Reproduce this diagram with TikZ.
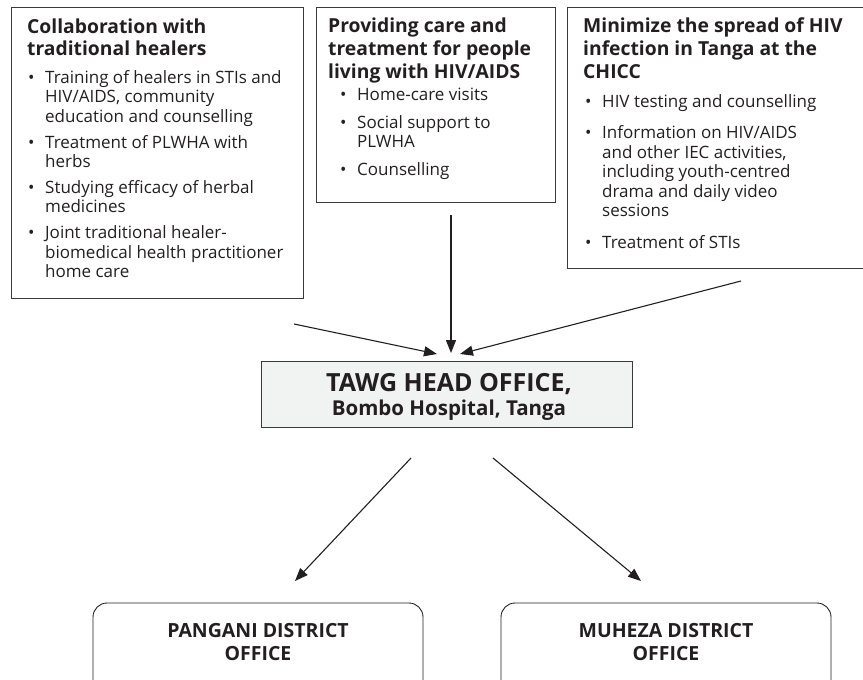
\documentclass[tikz,border=0pt]{standalone}
\usepackage{fontspec}
\setmainfont{Open Sans}
\usetikzlibrary{arrows.meta}
\definecolor{ink}{HTML}{231F20}
\definecolor{frame}{HTML}{3A3A3A}
\definecolor{hofill}{HTML}{F1F2F2}
\newlength\bgap
\newcommand\bodyfont{\fontsize{17}{19.5}\selectfont}
\newcommand\firstb[1]{\noindent\hangindent=17pt\hangafter=1\makebox[17pt][l]{\textbullet}{\let\\\newline #1}\par}
\newcommand\bitem[1]{\vspace{\bgap}\firstb{#1}}
\tikzset{
  box/.style={draw=frame, line width=1pt},
  head/.style={anchor=base west, inner sep=0pt, text=ink},
  body/.style={anchor=base west, inner sep=0pt, text=ink},
  arr/.style={draw=ink, line width=1.1pt, -{Triangle[length=13pt,width=10pt]}},
  office/.style={draw=ink, line width=0.9pt, rounded corners=14pt},
  otext/.style={anchor=center, inner sep=0pt, align=center, text=ink,
    font=\fontsize{19.5}{23}\selectfont\bfseries}
}
\newcommand\headtext[1]{\parbox[t]{300pt}{\raggedright\fontsize{19.3}{23}\selectfont\bfseries #1}}
\newcommand\bodytext[2]{\parbox[t]{300pt}{\raggedright\bodyfont\setlength\bgap{#1}#2}}
\begin{document}
\begin{tikzpicture}[x=1pt,y=-1pt]
\useasboundingbox (0,0) rectangle (863,680);
% top boxes
\draw[box] (11,7) rectangle (303,298);
\draw[box] (316,7) rectangle (555,202);
\draw[box] (567,7) rectangle (880,268);
% box 1
\node[head] (h1) at (27,33) {\headtext{Collaboration with\\traditional healers}};
\node[body] (b1) at (28,83) {\bodytext{6.5pt}{%
\firstb{Training of healers in STIs and\\HIV/AIDS, community\\education and counselling}%
\bitem{Treatment of PLWHA with\\herbs}%
\bitem{Studying efficacy of herbal\\medicines}%
\bitem{Joint traditional healer-\\biomedical health practitioner\\home care}}};
% box 2
\node[head] (h2) at (328,32) {\headtext{Providing care and\\treatment for people\\living with HIV/AIDS}};
\node[body] (b2) at (340,100) {\bodytext{8.5pt}{%
\firstb{Home-care visits}%
\bitem{Social support to\\PLWHA}%
\bitem{Counselling}}};
% box 3
\node[head] (h3) at (583,32) {\headtext{Minimize the spread of HIV\\infection in Tanga at the\\CHICC}};
\node[body] (b3) at (585,107) {\bodytext{12pt}{%
\firstb{HIV testing and counselling}%
\bitem{Information on HIV/AIDS\\and other IEC activities,\\including youth-centred\\drama and daily video\\sessions}%
\bitem{Treatment of STIs}}};
% head office
\node[draw=frame, fill=hofill, line width=1pt, minimum width=371pt, minimum height=66pt, inner sep=0pt] (ho) at (446.5,394) {};
\node[anchor=base, inner sep=0pt, text=ink, font=\fontsize{25}{28}\selectfont\bfseries] (ho1) at (449,391) {TAWG HEAD OFFICE,};
\node[anchor=base, inner sep=0pt, text=ink, font=\fontsize{20.5}{22}\selectfont\bfseries] (ho2) at (449,415) {Bombo Hospital, Tanga};
% district offices
\draw[office] (93,681) -- (93,603) -- (423,603) -- (423,681);
\draw[office] (501,681) -- (501,603) -- (831,603) -- (831,681);
\node[otext] (pangani) at (258,642) {PANGANI DISTRICT\\OFFICE};
\node[otext] (muheza) at (666,642) {MUHEZA DISTRICT\\OFFICE};
% arrows
\coordinate (a1s) at (294,324); \coordinate (a1e) at (437,354);
\coordinate (a2s) at (451,215); \coordinate (a2e) at (451,353);
\coordinate (a3s) at (741,281); \coordinate (a3e) at (460,354);
\coordinate (a4s) at (411,458); \coordinate (a4e) at (295,581);
\coordinate (a5s) at (493,458); \coordinate (a5e) at (641,581);
\draw[arr] (a1s) -- (a1e);
\draw[arr] (a2s) -- (a2e);
\draw[arr] (a3s) -- (a3e);
\draw[arr] (a4s) -- (a4e);
\draw[arr] (a5s) -- (a5e);
\end{tikzpicture}
\end{document}
